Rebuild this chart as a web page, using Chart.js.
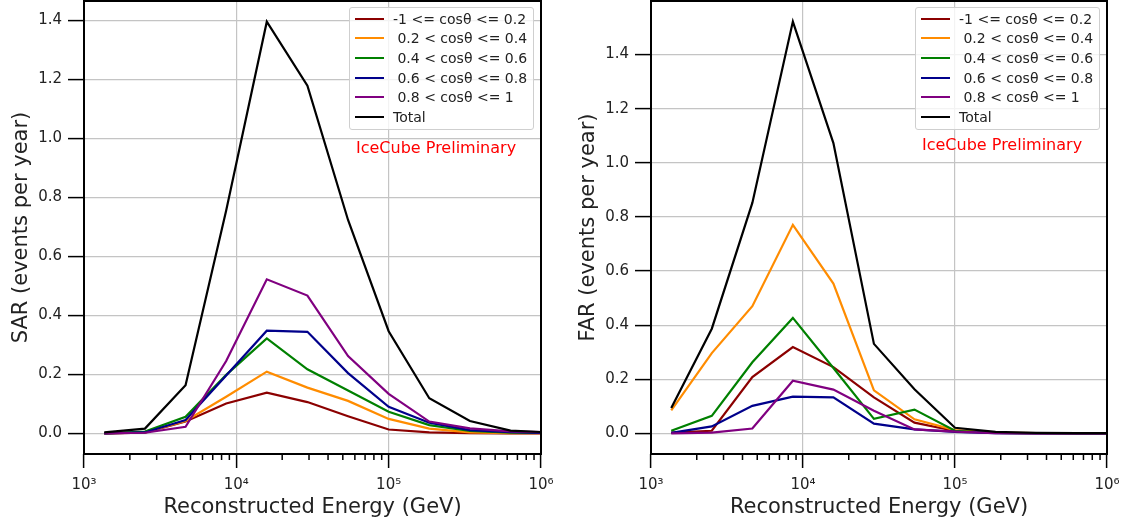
<!DOCTYPE html>
<html><head><meta charset="utf-8">
<script src="https://cdn.jsdelivr.net/npm/chart.js@4"></script>
<style>
html,body{margin:0;padding:0;background:#fff;width:1128px;height:529px;overflow:hidden;font-family:'DejaVu Sans',sans-serif;}
.panel{position:absolute;top:0;width:564px;height:529px;}
.legend{position:absolute;top:7px;width:183px;height:120px;border:1px solid #cfcfcf;border-radius:3px;background:rgba(255,255,255,0.8);padding-top:1px;}
.row{height:19.6px;display:flex;align-items:center;font-size:14px;color:#222;white-space:pre;}
.sw{display:inline-block;width:29px;height:2px;margin-left:5px;margin-right:9px;flex:none;}
.tag{position:absolute;font-size:16px;line-height:16px;color:#ff0000;white-space:nowrap;}
</style></head>
<body>
<div class="panel" style="left:0"><canvas id="sar" width="564" height="529"></canvas></div>
<div class="panel" style="left:564px"><canvas id="far" width="564" height="529"></canvas></div>
<div class="legend" id="legSar" style="left:349px"></div>
<div class="legend" id="legFar" style="left:915px"></div>
<div class="tag" style="left:356px;top:140px">IceCube Preliminary</div>
<div class="tag" style="left:922px;top:137px">IceCube Preliminary</div>
<script>
// ---- data ----
const energies = [1359, 2512, 4642, 8577, 15849, 29286, 54117, 100000, 184785, 341455, 630957, 1165914];
const seriesLabels = ['-1 <= cosθ <= 0.2', ' 0.2 < cosθ <= 0.4', ' 0.4 < cosθ <= 0.6', ' 0.6 < cosθ <= 0.8', ' 0.8 < cosθ <= 1', 'Total'];
const seriesColors = ['#8b0000', '#ff8c00', '#008000', '#00008b', '#800080', '#000000'];

const sarBand1 = [0.000, 0.002, 0.040, 0.101, 0.138, 0.106, 0.058, 0.013, 0.003, 0.001, 0.000, 0.000];
const sarBand2 = [0.000, 0.003, 0.042, 0.124, 0.209, 0.155, 0.110, 0.049, 0.016, 0.003, 0.001, 0.000];
const sarBand3 = [0.000, 0.006, 0.056, 0.198, 0.322, 0.217, 0.145, 0.073, 0.028, 0.008, 0.002, 0.001];
const sarBand4 = [0.000, 0.003, 0.045, 0.196, 0.348, 0.344, 0.204, 0.090, 0.036, 0.011, 0.004, 0.001];
const sarBand5 = [0.000, 0.002, 0.022, 0.245, 0.522, 0.467, 0.262, 0.134, 0.040, 0.017, 0.007, 0.003];
const sarTotal = [0.003, 0.016, 0.163, 0.755, 1.395, 1.178, 0.723, 0.346, 0.119, 0.042, 0.009, 0.003];

const farBand1 = [0.003, 0.010, 0.208, 0.319, 0.245, 0.133, 0.040, 0.009, 0.002, 0.001, 0.000, 0.000];
const farBand2 = [0.085, 0.297, 0.470, 0.771, 0.554, 0.159, 0.052, 0.012, 0.003, 0.001, 0.000, 0.000];
const farBand3 = [0.010, 0.065, 0.263, 0.427, 0.242, 0.054, 0.088, 0.010, 0.002, 0.001, 0.000, 0.000];
const farBand4 = [0.002, 0.026, 0.102, 0.136, 0.133, 0.036, 0.015, 0.006, 0.001, 0.000, 0.000, 0.000];
const farBand5 = [0.000, 0.003, 0.018, 0.195, 0.162, 0.084, 0.015, 0.007, 0.001, 0.000, 0.000, 0.000];
const farTotal = [0.094, 0.387, 0.852, 1.522, 1.073, 0.331, 0.163, 0.021, 0.006, 0.002, 0.001, 0.001];

const yTickValues = [0.0, 0.2, 0.4, 0.6, 0.8, 1.0, 1.2, 1.4];
const xMajorTicks = [1e3, 1e4, 1e5, 1e6];
const xTickLabels = ['10³', '10⁴', '10⁵', '10⁶'];
const xMinorMultipliers = [2, 3, 4, 5, 6, 7, 8, 9];
const sarYLimits = [-0.070, 1.465];
const farYLimits = [-0.076, 1.598];

// ---- rendering ----
Chart.defaults.font.family = "'DejaVu Sans', sans-serif";
Chart.defaults.color = '#222';

function isMajor(v) {
  const l = Math.log10(v);
  return Math.abs(l - Math.round(l)) < 1e-9;
}

const framePlugin = {
  id: 'frame',
  afterDatasetsDraw(chart) {
    const {ctx, chartArea: a, scales: {x}} = chart;
    ctx.save();
    ctx.strokeStyle = '#000';
    ctx.lineWidth = 1.5;
    ctx.beginPath();
    for (const t of x.ticks) {
      if (!isMajor(t.value)) {
        const px = x.getPixelForValue(t.value);
        ctx.moveTo(px, a.bottom);
        ctx.lineTo(px, a.bottom + 6);
      }
    }
    ctx.stroke();
    ctx.lineWidth = 2;
    ctx.strokeRect(a.left, a.top, a.right - a.left, a.bottom - a.top);
    ctx.restore();
  }
};

function makeChart(id, series, yTitle, yLimits, yAxisWidth, rightPad, titlePad) {
  const datasets = series.map((vals, i) => ({
    label: seriesLabels[i],
    data: energies.map((e, k) => ({x: e, y: vals[k]})),
    borderColor: seriesColors[i],
    backgroundColor: seriesColors[i],
    borderWidth: 2.2,
    pointRadius: 0,
    tension: 0,
    fill: false,
    order: series.length - 1 - i
  }));
  return new Chart(document.getElementById(id), {
    type: 'line',
    data: {datasets},
    plugins: [framePlugin],
    options: {
      responsive: false,
      animation: false,
      layout: {padding: {left: 0, right: rightPad, top: 1, bottom: 0}},
      plugins: {legend: {display: false}, tooltip: {enabled: false}},
      scales: {
        x: {
          type: 'logarithmic',
          min: 1e3, max: 1e6,
          afterBuildTicks(scale) {
            const t = [];
            xMajorTicks.forEach((m, i) => {
              t.push({value: m});
              if (i < xMajorTicks.length - 1) xMinorMultipliers.forEach(k => t.push({value: m * k}));
            });
            scale.ticks = t;
          },
          afterFit(scale) { scale.height = 75; scale.paddingLeft = 0; scale.paddingRight = 0; },
          grid: {
            color: c => (c.tick && isMajor(c.tick.value)) ? '#c4c4c4' : 'rgba(0,0,0,0)',
            lineWidth: 1.2,
            tickLength: 14,
            tickColor: c => (c.tick && isMajor(c.tick.value)) ? '#000' : 'rgba(0,0,0,0)',
            tickWidth: 1.5
          },
          border: {display: false},
          ticks: {
            autoSkip: false, maxRotation: 0, minRotation: 0, padding: 8,
            color: '#222', font: {size: 15},
            callback: (v) => { const i = xMajorTicks.indexOf(v); return i >= 0 ? xTickLabels[i] : ''; }
          },
          title: {display: true, text: 'Reconstructed Energy (GeV)', font: {size: 21}, color: '#222', padding: {top: 0, bottom: 8.5}}
        },
        y: {
          min: yLimits[0], max: yLimits[1],
          afterBuildTicks(scale) { scale.ticks = yTickValues.map(v => ({value: v})); },
          afterFit(scale) { scale.width = yAxisWidth; scale.paddingTop = 0; scale.paddingBottom = 0; },
          grid: {color: '#c4c4c4', lineWidth: 1.2, tickLength: 16, tickColor: '#000', tickWidth: 1.5},
          border: {display: false},
          ticks: {padding: 6, color: '#222', font: {size: 15}, callback: v => Number(v).toFixed(1)},
          title: {display: true, text: yTitle, font: {size: 21}, color: '#222', padding: {top: titlePad, bottom: 0}}
        }
      }
    }
  });
}

function buildLegend(id) {
  const el = document.getElementById(id);
  seriesLabels.forEach((lab, i) => {
    const row = document.createElement('div');
    row.className = 'row';
    const sw = document.createElement('span');
    sw.className = 'sw';
    sw.style.background = seriesColors[i];
    const tx = document.createElement('span');
    tx.textContent = lab;
    row.appendChild(sw);
    row.appendChild(tx);
    el.appendChild(row);
  });
}

makeChart('sar', [sarBand1, sarBand2, sarBand3, sarBand4, sarBand5, sarTotal], 'SAR (events per year)', sarYLimits, 84, 23, 9);
makeChart('far', [farBand1, farBand2, farBand3, farBand4, farBand5, farTotal], 'FAR (events per year)', farYLimits, 87, 21, 12);
buildLegend('legSar');
buildLegend('legFar');
</script>
</body></html>
